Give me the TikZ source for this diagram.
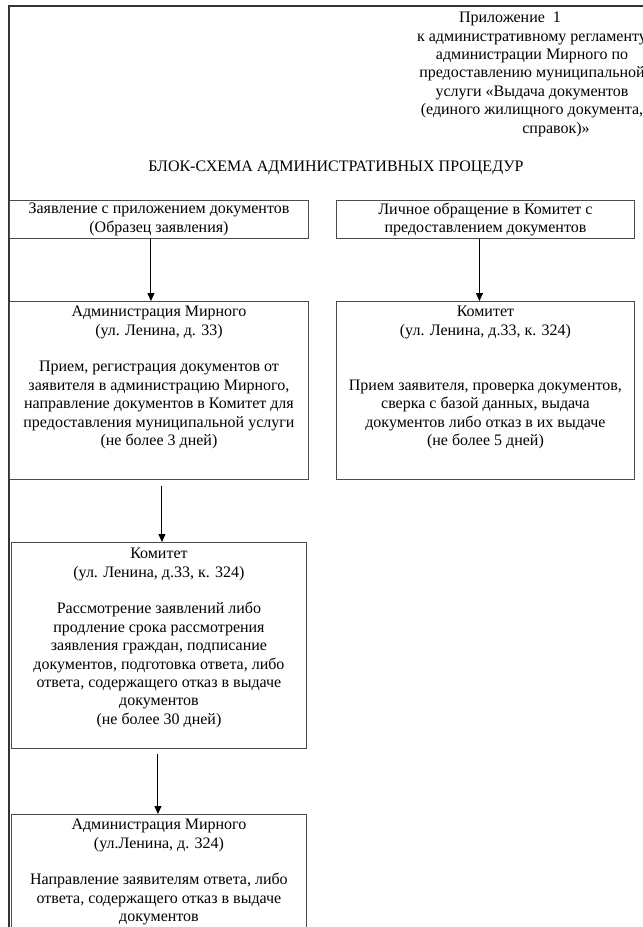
\documentclass[tikz,border=0pt]{standalone}
\usepackage{fontspec}
\setmainfont{Liberation Serif}
\usetikzlibrary{positioning,arrows.meta}

\tikzset{
  blk/.style={draw=black!70, line width=0.9pt, inner sep=0pt},
  txt/.style={align=center, font=\fontsize{16}{18.4}\selectfont, inner sep=0pt},
  arr/.style={-{Triangle[length=8pt,width=7pt]}, line width=1pt},
}

\begin{document}
\begin{tikzpicture}[x=1pt,y=-1pt]
  \useasboundingbox (0,0) rectangle (643,927);
  \clip (0,0) rectangle (643,927);
  % frame
  \draw[line width=1.8pt, black!80] (9,940) -- (9,6) -- (660,6);

  % heading
  \node[txt, anchor=north] (pril) at (532,12)
    {Приложение \ 1\hspace*{44pt}\\
     к административному регламенту\\
     администрации Мирного по\hspace*{32pt}\\
     предоставлению муниципальной\\
     услуги «Выдача документов\hspace*{54pt}\\
     (единого жилищного документа,\\
     \hspace*{48pt}справок)»};
  \node[txt] (title) at (336,168) {БЛОК-СХЕМА АДМИНИСТРАТИВНЫХ ПРОЦЕДУР};

  % first row
  \node[blk, txt, minimum width=299pt, minimum height=38pt, anchor=north west] (zayav) at (9,200)
    {Заявление с приложением документов\\(Образец заявления)};
  \node[blk, txt, minimum width=298pt, minimum height=38pt, anchor=north west] (lich) at (336,200)
    {Личное обращение в Комитет с\\предоставлением документов};

  % second row
  \node[blk, minimum width=299pt, minimum height=178pt, anchor=north west] (adm) at (9,301) {};
  \node[txt, below=5pt of adm.north] (admtxt)
    {Администрация Мирного\\(ул. Ленина, д. 33)\\[18.4pt]
     Прием, регистрация документов от\\
     заявителя в администрацию Мирного,\\
     направление документов в Комитет для\\
     предоставления муниципальной услуги\\
     (не более 3 дней)};
  \node[blk, minimum width=298pt, minimum height=178pt, anchor=north west] (kom) at (336,301) {};
  \node[txt, below=5pt of kom.north] (komtxt)
    {Комитет\\(ул. Ленина, д.33, к. 324)\\[36.8pt]
     Прием заявителя, проверка документов,\\
     сверка с базой данных, выдача\\
     документов либо отказ в их выдаче\\
     (не более 5 дней)};

  % third row
  \node[blk, minimum width=295pt, minimum height=206pt, anchor=north west] (rassm) at (11,542) {};
  \node[txt, below=6pt of rassm.north] (rassmtxt)
    {Комитет\\(ул. Ленина, д.33, к. 324)\\[18.4pt]
     Рассмотрение заявлений либо\\
     продление срока рассмотрения\\
     заявления граждан, подписание\\
     документов, подготовка ответа, либо\\
     ответа, содержащего отказ в выдаче\\
     документов\\
     (не более 30 дней)};

  % fourth row
  \node[blk, minimum width=295pt, minimum height=160pt, anchor=north west] (otvet) at (11,814) {};
  \node[txt, below=5pt of otvet.north] (otvettxt)
    {Администрация Мирного\\(ул.Ленина, д. 324)\\[18.4pt]
     Направление заявителям ответа, либо\\
     ответа, содержащего отказ в выдаче\\
     документов};

  % arrows
  \draw[arr] ([xshift=-8pt]zayav.south) -- ([xshift=-8pt]adm.north);
  \draw[arr] ([xshift=-6pt]lich.south) -- ([xshift=-6pt]kom.north);
  \draw[arr] ([xshift=3pt,yshift=-6pt]adm.south) -- ([xshift=3pt]rassm.north);
  \draw[arr] ([xshift=-1pt,yshift=-5pt]rassm.south) -- ([xshift=-1pt]otvet.north);
\end{tikzpicture}
\end{document}
